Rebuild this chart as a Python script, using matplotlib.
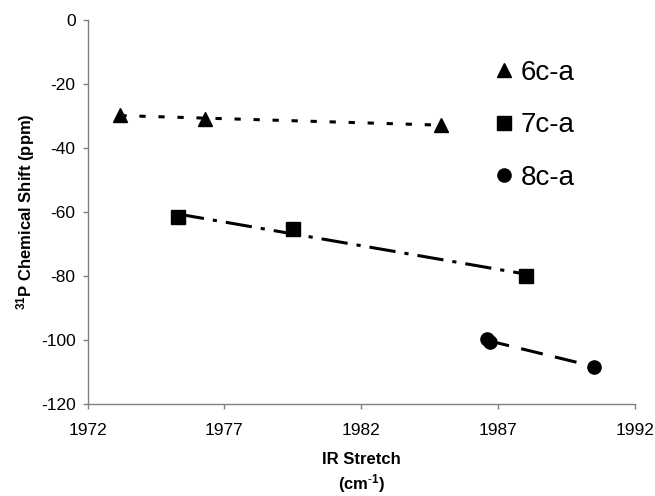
import numpy as np
import matplotlib
matplotlib.use("Agg")
import matplotlib.pyplot as plt
from matplotlib.lines import Line2D

plt.rcParams['font.family'] = ['Liberation Sans', 'DejaVu Sans']
plt.rcParams['mathtext.fontset'] = 'custom'
plt.rcParams['mathtext.rm'] = 'Liberation Sans'
plt.rcParams['mathtext.bf'] = 'Liberation Sans:bold'
plt.rcParams['mathtext.default'] = 'regular'
plt.rcParams['lines.scale_dashes'] = False

series_names = ["6c-a", "7c-a", "8c-a"]
x_6c = [1973.2, 1976.3, 1984.9]
y_6c = [-29.7, -30.9, -32.8]
x_7c = [1975.3, 1979.5, 1988.0]
y_7c = [-61.6, -65.4, -79.9]
x_8c = [1986.6, 1986.7, 1990.5]
y_8c = [-99.8, -100.7, -108.3]

xticks = [1972, 1977, 1982, 1987, 1992]
yticks = [0, -20, -40, -60, -80, -100, -120]

fig = plt.figure(figsize=(6.55, 4.96), dpi=100)
ax = fig.add_axes([0.1336, 0.1855, 0.8364, 0.7742])

markers = ['^', 's', 'o']
dashes = [(4.5, 9.2), (19, 6.5, 3, 6.5), (16, 9)]
data = [(x_6c, y_6c), (x_7c, y_7c), (x_8c, y_8c)]
lw = 2.2
for (xs, ys), m, d, name in zip(data, markers, dashes, series_names):
    xs = np.array(xs); ys = np.array(ys)
    k, b = np.polyfit(xs, ys, 1)
    xl = np.array([xs.min(), xs.max()])
    ax.plot(xl, k * xl + b, color='black', lw=lw, dashes=d, zorder=2)
    ax.plot(xs, ys, linestyle='none', marker=m, color='black', markersize=9.5, zorder=3)

ax.set_xlim(1972, 1992)
ax.set_ylim(-120, 0)
ax.set_xticks(xticks)
ax.set_yticks(yticks)
ax.set_xticklabels([str(t) for t in xticks], fontsize=12.5)
ax.set_yticklabels([str(t) for t in yticks], fontsize=12.5)
for s in ['top', 'right']:
    ax.spines[s].set_visible(False)
for s in ['left', 'bottom']:
    ax.spines[s].set_color('#808080')
    ax.spines[s].set_linewidth(1.0)
ax.tick_params(axis='both', direction='out', length=3.6, color='#808080', width=1.0, pad=5)
ax.tick_params(axis='x', pad=10)

ax.set_xlabel("IR Stretch\n(cm$^{\\text{-}1}$)", fontsize=12, fontweight='bold', labelpad=10, linespacing=1.3)
ax.set_ylabel("$^{31}$P Chemical Shift (ppm)", fontsize=12, fontweight='bold', labelpad=3)

handles = [Line2D([], [], linestyle='none', marker=m, color='black', markersize=9.5) for m in markers]
leg = ax.legend(handles, series_names, loc='upper left', bbox_to_anchor=(0.724, 0.925),
                frameon=False, fontsize=20, handlelength=0.6, handletextpad=0.3,
                labelspacing=0.95, borderaxespad=0)

fig.savefig("out.png", dpi=100)
